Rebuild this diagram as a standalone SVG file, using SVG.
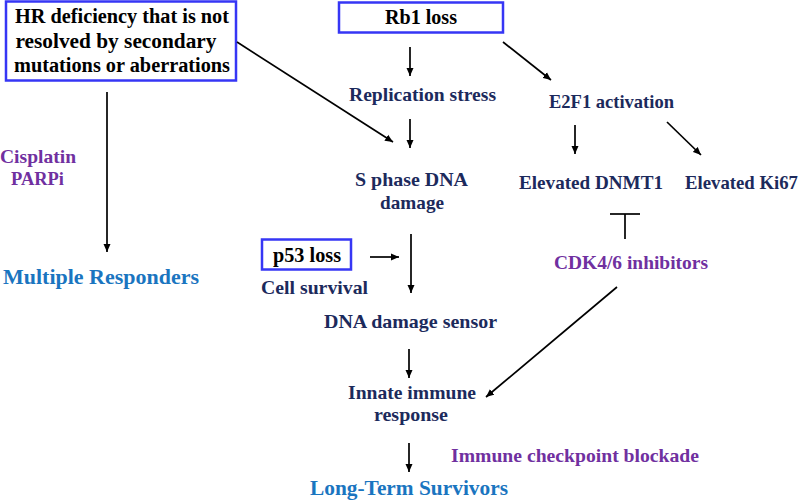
<svg xmlns="http://www.w3.org/2000/svg" width="800" height="500" viewBox="0 0 800 500">
<style>
.box{fill:#fff;stroke:#3636f5;stroke-width:2.5}
text{font-family:'Liberation Serif','Times New Roman',serif;font-weight:bold}
.bt{font-size:20px;fill:#000;text-anchor:middle}
.nv{font-size:19px;fill:#1c2a5c}
.pu{font-size:19px;fill:#7030a0}
.bl{font-size:20px;fill:#1a75c0}
.ln{stroke:#000;stroke-width:1.7;fill:none}
.ar{stroke:#000;stroke-width:1.7;fill:none;marker-end:url(#ah)}
</style>
<defs>
<marker id="ah" markerUnits="userSpaceOnUse" markerWidth="10" markerHeight="8" refX="8" refY="4" orient="auto">
<path d="M0,0.5 L8,4 L0,7.5 Z" fill="#000"/>
</marker>
</defs>
<rect width="800" height="500" fill="#fff"/>
<g id="hr">
<rect class="box" x="6" y="1.5" width="230" height="79"/>
<text class="bt" x="122" y="23" textLength="214" lengthAdjust="spacingAndGlyphs">HR deficiency that is not</text>
<text class="bt" x="116" y="48" textLength="201" lengthAdjust="spacingAndGlyphs">resolved by secondary</text>
<text class="bt" x="122" y="72" textLength="216" lengthAdjust="spacingAndGlyphs">mutations or aberrations</text>
</g>
<g id="rb1">
<rect class="box" x="339" y="2.5" width="164" height="30"/>
<text class="bt" x="421" y="24" textLength="72" lengthAdjust="spacingAndGlyphs">Rb1 loss</text>
</g>
<g id="replication"><text class="nv" x="349" y="101" textLength="147" lengthAdjust="spacingAndGlyphs">Replication stress</text></g>
<g id="sphase">
<text class="nv" x="355" y="186" textLength="113" lengthAdjust="spacingAndGlyphs">S phase DNA</text>
<text class="nv" x="412" y="209" text-anchor="middle" textLength="64" lengthAdjust="spacingAndGlyphs">damage</text>
</g>
<g id="e2f1"><text class="nv" x="549" y="108" textLength="125" lengthAdjust="spacingAndGlyphs">E2F1 activation</text></g>
<g id="dnmt1"><text class="nv" x="519" y="189" textLength="144" lengthAdjust="spacingAndGlyphs">Elevated DNMT1</text></g>
<g id="ki67"><text class="nv" x="685" y="189" textLength="113" lengthAdjust="spacingAndGlyphs">Elevated Ki67</text></g>
<g id="cdk"><text class="pu" x="554" y="269" textLength="154" lengthAdjust="spacingAndGlyphs">CDK4/6 inhibitors</text></g>
<g id="p53">
<rect class="box" x="262" y="239.5" width="89" height="30"/>
<text class="bt" x="307" y="262" textLength="68" lengthAdjust="spacingAndGlyphs">p53 loss</text>
</g>
<g id="cellsurvival"><text class="nv" x="261" y="294" textLength="107" lengthAdjust="spacingAndGlyphs">Cell survival</text></g>
<g id="sensor"><text class="nv" x="324" y="328" textLength="173" lengthAdjust="spacingAndGlyphs">DNA damage sensor</text></g>
<g id="innate">
<text class="nv" x="348" y="399" textLength="128" lengthAdjust="spacingAndGlyphs">Innate immune</text>
<text class="nv" x="374" y="421" textLength="74" lengthAdjust="spacingAndGlyphs">response</text>
</g>
<g id="icb"><text class="pu" x="451" y="462" textLength="248" lengthAdjust="spacingAndGlyphs">Immune checkpoint blockade</text></g>
<g id="longterm"><text class="bl" x="310" y="495" textLength="198" lengthAdjust="spacingAndGlyphs">Long-Term Survivors</text></g>
<g id="cisplatin">
<text class="pu" x="0" y="163" textLength="76" lengthAdjust="spacingAndGlyphs">Cisplatin</text>
<text class="pu" x="11" y="185" textLength="53" lengthAdjust="spacingAndGlyphs">PARPi</text>
</g>
<g id="multiple"><text class="bl" x="3" y="284" textLength="196" lengthAdjust="spacingAndGlyphs">Multiple Responders</text></g>
<g id="connectors">
<line class="ar" x1="410" y1="47" x2="410" y2="76"/>
<line class="ar" x1="410" y1="119" x2="410" y2="148"/>
<line class="ar" x1="237" y1="42" x2="393" y2="142"/>
<line class="ar" x1="503" y1="42" x2="551" y2="80"/>
<line class="ar" x1="575" y1="125" x2="575" y2="154"/>
<line class="ar" x1="667" y1="122" x2="701" y2="155"/>
<line class="ln" x1="610" y1="214" x2="640" y2="214"/>
<line class="ln" x1="625" y1="214" x2="625" y2="239"/>
<line class="ar" x1="617" y1="287" x2="486" y2="397"/>
<line class="ar" x1="370" y1="257" x2="399" y2="257"/>
<line class="ar" x1="411" y1="234" x2="411" y2="293"/>
<line class="ar" x1="409" y1="349" x2="409" y2="378"/>
<line class="ar" x1="409" y1="443" x2="409" y2="472"/>
<line class="ar" x1="107" y1="92" x2="107" y2="252"/>
</g>
</svg>
